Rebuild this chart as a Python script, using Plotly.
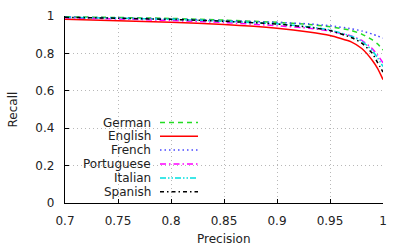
import plotly.graph_objects as go

precision = [0.7, 0.75, 0.8, 0.85, 0.9, 0.93, 0.95, 0.97, 0.98, 0.99, 0.995, 1.0]

languages = ["German", "English", "French", "Portuguese", "Italian", "Spanish"]
recall_german = [0.996, 0.992, 0.987, 0.978, 0.966, 0.955, 0.943, 0.923, 0.903, 0.872, 0.850, 0.818]
recall_english = [0.982, 0.975, 0.967, 0.955, 0.935, 0.915, 0.896, 0.862, 0.826, 0.762, 0.718, 0.660]
recall_french = [0.995, 0.990, 0.985, 0.976, 0.966, 0.958, 0.948, 0.932, 0.920, 0.903, 0.893, 0.882]
recall_portuguese = [0.990, 0.984, 0.976, 0.965, 0.948, 0.935, 0.920, 0.893, 0.870, 0.825, 0.790, 0.750]
recall_italian = [0.993, 0.988, 0.982, 0.972, 0.958, 0.942, 0.925, 0.892, 0.865, 0.815, 0.775, 0.730]
recall_spanish = [0.993, 0.988, 0.982, 0.972, 0.957, 0.940, 0.922, 0.885, 0.855, 0.800, 0.750, 0.700]

x_ticks = [0.7, 0.75, 0.8, 0.85, 0.9, 0.95, 1.0]
x_ticklabels = ["0.7", "0.75", "0.8", "0.85", "0.9", "0.95", "1"]
y_ticks = [0, 0.2, 0.4, 0.6, 0.8, 1.0]
y_ticklabels = ["0", "0.2", "0.4", "0.6", "0.8", "1"]

series = [recall_german, recall_english, recall_french, recall_portuguese, recall_italian, recall_spanish]
colors = ["#22dd22", "#ff0000", "#4a4aff", "#ff00ff", "#00e0e0", "#000000"]
dashes = ["5px,4px", "solid", "1.5px,3px", "6px,3px,1.5px,3px", "6px,2px,1.5px,2px,1.5px,2px", "4px,3px,1.5px,3px"]

FONT = "DejaVu Sans"
W, H = 407, 248
L, R, T, B = 65, 24, 16, 45
PW, PH = W - L - R, H - T - B

fig = go.Figure()
for name, rec, c, d in zip(languages, series, colors, dashes):
    fig.add_trace(go.Scatter(x=precision, y=rec, mode="lines", name=name,
                             line=dict(color=c, dash=d, width=1.5, shape="spline", smoothing=0.5),
                             showlegend=False, hoverinfo="skip"))

def px_x(p):
    return (p - L) / PW

def px_y(p):
    return (H - B - p) / PH

shapes = []
annotations = []
# legend background box (covers grid)
shapes.append(dict(type="rect", xref="paper", yref="paper", x0=px_x(L + 1), x1=px_x(207), y0=px_y(202), y1=px_y(110),
                   fillcolor="white", line=dict(width=0), layer="between"))
rows = [122.5, 136.3, 150.1, 164.0, 177.9, 191.7]
for name, c, d, ry in zip(languages, colors, dashes, rows):
    annotations.append(dict(text=name, xref="paper", yref="paper", x=px_x(153), y=px_y(ry),
                            xanchor="right", yanchor="middle", showarrow=False,
                            font=dict(family=FONT, size=12, color="#222222")))
    shapes.append(dict(type="line", xref="paper", yref="paper", x0=px_x(160), x1=px_x(198),
                       y0=px_y(ry), y1=px_y(ry), line=dict(color=c, dash=d, width=1.5)))

annotations.append(dict(text="Precision", xref="paper", yref="paper", x=0.5, y=px_y(239),
                        xanchor="center", yanchor="middle", showarrow=False,
                        font=dict(family=FONT, size=12, color="#222222")))
annotations.append(dict(text="Recall", xref="paper", yref="paper", x=px_x(12), y=0.5, textangle=-90,
                        xanchor="center", yanchor="middle", showarrow=False,
                        font=dict(family=FONT, size=12, color="#222222")))

fig.update_layout(
    width=W, height=H, margin=dict(l=L, r=R, t=T, b=B, autoexpand=False),
    paper_bgcolor="white", plot_bgcolor="white",
    font=dict(family=FONT, size=12, color="#222222"),
    shapes=shapes, annotations=annotations, showlegend=False,
)
fig.update_xaxes(range=[0.7, 1.0], tickvals=x_ticks, ticktext=x_ticklabels,
                 showgrid=True, gridcolor="#b8b8b8", griddash="1px,3px", gridwidth=1,
                 showline=True, linecolor="#000000", linewidth=1.2,
                 ticks="inside", ticklen=4, tickcolor="#000000", ticklabelstandoff=6,
                 zeroline=False, tickfont=dict(family=FONT, size=12))
fig.update_yaxes(range=[0, 1.0], tickvals=y_ticks, ticktext=y_ticklabels,
                 showgrid=True, gridcolor="#b8b8b8", griddash="1px,3px", gridwidth=1,
                 showline=True, linecolor="#000000", linewidth=1.2,
                 ticks="inside", ticklen=4, tickcolor="#000000", ticklabelstandoff=7,
                 zeroline=False, tickfont=dict(family=FONT, size=12))

fig.write_html("out.html", config={"displayModeBar": False, "staticPlot": True},
               post_script="document.body.style.margin='0';document.body.style.overflow='hidden';")
